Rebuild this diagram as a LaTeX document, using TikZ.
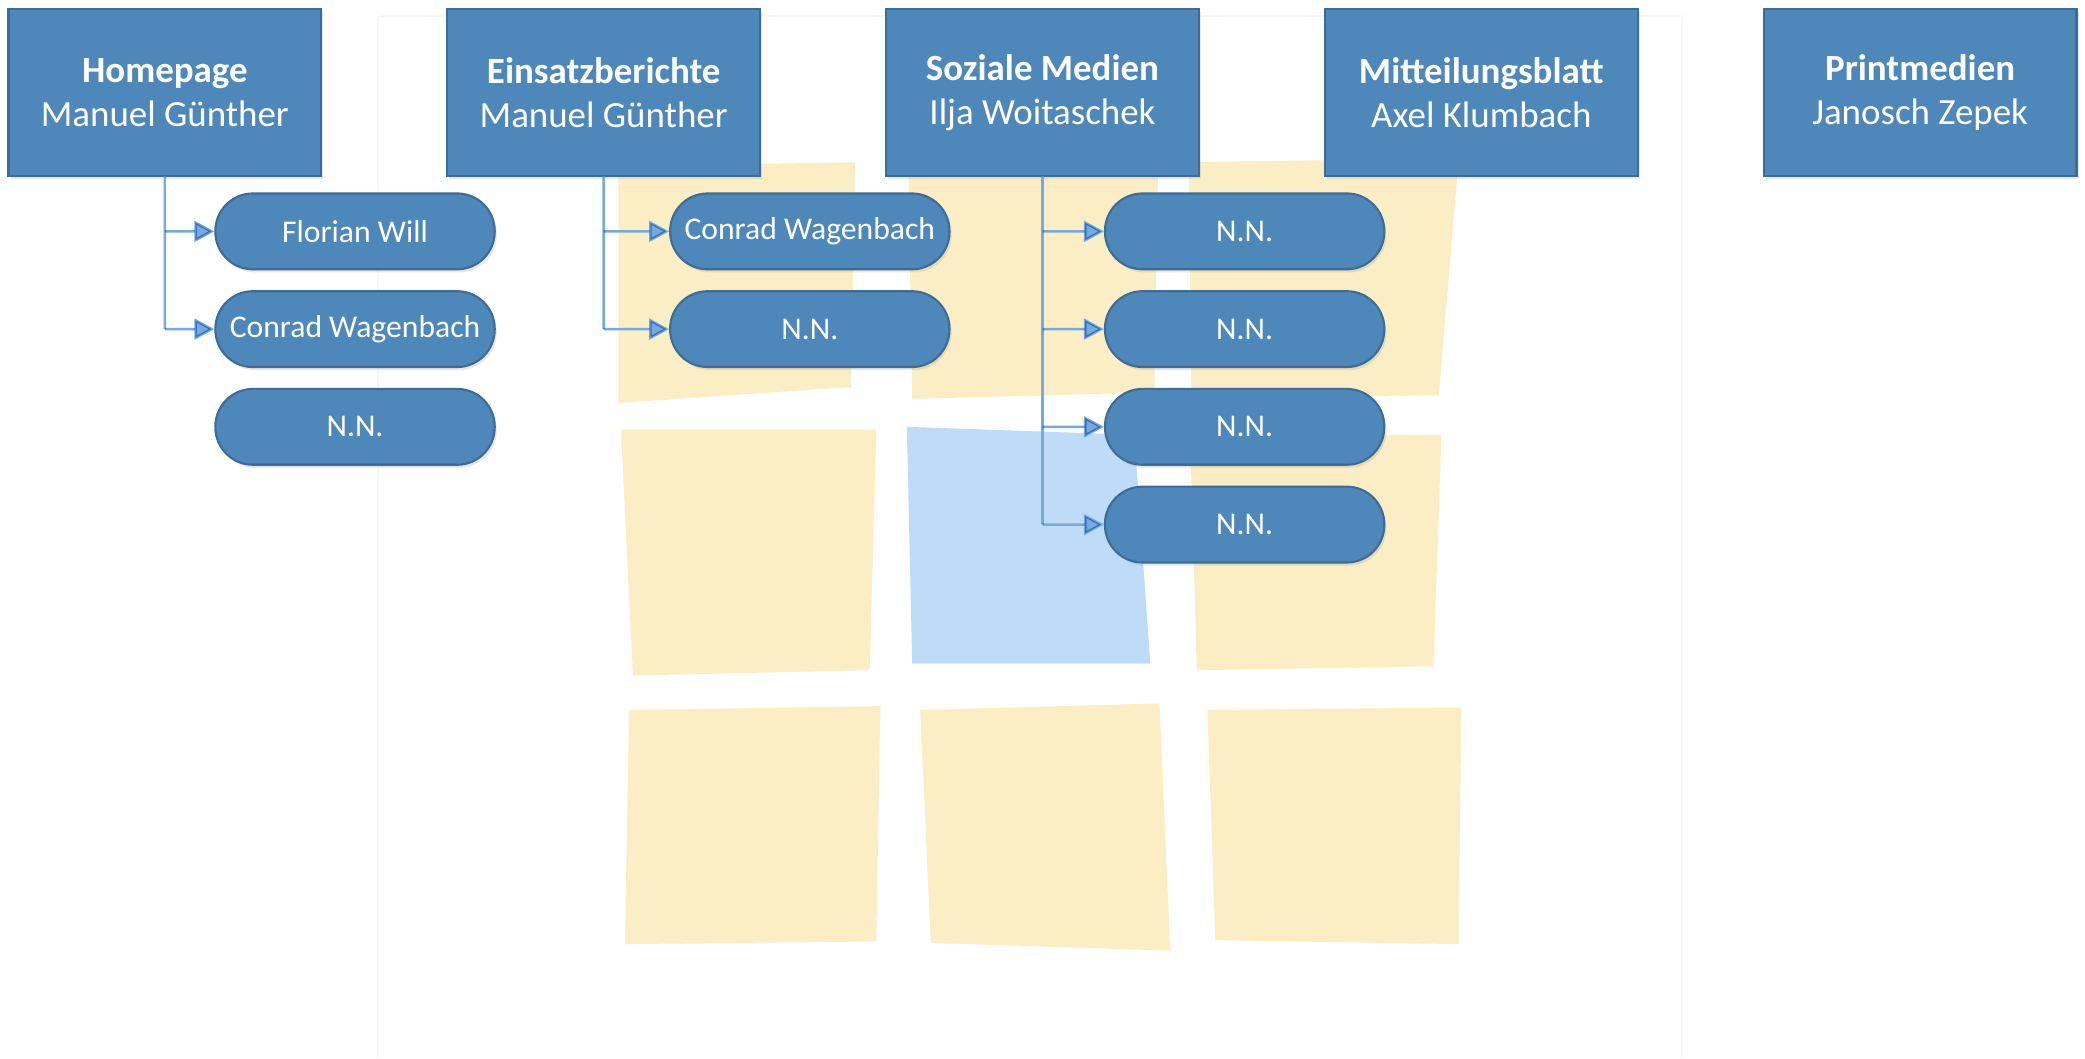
\documentclass[tikz,border=0pt]{standalone}
\usepackage{fontspec}
\setmainfont{Carlito}
\usetikzlibrary{arrows.meta,shadows}
\definecolor{boxblue}{RGB}{78,135,185}
\definecolor{boxedge}{RGB}{62,108,150}
\definecolor{notey}{RGB}{251,238,197}
\definecolor{noteb}{RGB}{190,219,248}
\definecolor{connc}{RGB}{118,170,222}
\tikzset{
  head/.style={rectangle, fill=boxblue, draw=boxedge, line width=0.6pt,
    minimum width=3.125cm, minimum height=1.662cm, align=center, text=white,
    font=\fontsize{10.5}{12.6}\selectfont,
    drop shadow={opacity=0.18, shadow xshift=0.6pt, shadow yshift=-0.9pt}},
  pill/.style={rectangle, rounded corners=0.375cm, fill=boxblue, draw=boxedge, line width=0.6pt,
    minimum width=2.792cm, minimum height=0.758cm, text=white,
    font=\fontsize{9}{11}\selectfont,
    drop shadow={opacity=0.18, shadow xshift=0.6pt, shadow yshift=-0.9pt}},
  note/.style={fill=notey, draw=none},
  noteblue/.style={fill=noteb, draw=none},
  conn/.style={draw=connc, line width=0.75pt},
  connarrow/.style={conn, -{Triangle[length=0.2cm, width=0.21cm]}}
}
\begin{document}
\begin{tikzpicture}[x=0.013297cm, y=-0.013297cm]
\useasboundingbox (0,0) rectangle (1568,796);
\fill[white] (0,0) rectangle (1568,796);
% faint frame of the background photo
\draw[black!3, line width=0.5pt] (284,12) -- (1265,12);
\draw[black!3, line width=0.5pt] (284,12) -- (284,796);
\draw[black!3, line width=0.5pt] (1265,12) -- (1265,796);
% sticky notes
\fill[note] (465,125) -- (643,122) -- (640,291) -- (465,303) -- cycle;
\fill[note] (683,122) -- (871,122) -- (868,295) -- (686,300) -- cycle;
\fill[note] (894,122) -- (1097,119) -- (1082,297) -- (896,300) -- cycle;
\fill[note] (467,323) -- (659,323) -- (654,504) -- (476,508) -- cycle;
\fill[noteblue] (682,321) -- (853,327) -- (865,499) -- (686,499) -- cycle;
\fill[note] (895,327) -- (1084,327) -- (1078,501) -- (900,504) -- cycle;
\fill[note] (473,534) -- (662,531) -- (659,708) -- (470,710) -- cycle;
\fill[note] (692,534) -- (872,529) -- (880,715) -- (700,709) -- cycle;
\fill[note] (908,534) -- (1099,532) -- (1097,710) -- (914,707) -- cycle;
% header boxes
\node[head] (h1) at (124,69.5) {\textbf{Homepage}\\Manuel Günther};
\node[head] (h2) at (454,69.5) {\textbf{Einsatzberichte}\\Manuel Günther};
\node[head] (h3) at (784,69.5) {\textbf{Soziale Medien}\\Ilja Woitaschek};
\node[head] (h4) at (1114,69.5) {\textbf{Mitteilungsblatt}\\Axel Klumbach};
\node[head] (h5) at (1444,69.5) {\textbf{Printmedien}\\Janosch Zepek};
% members
\node[pill] (p11) at (267,174) {Florian Will};
\node[pill] (p12) at (267,247.5) {Conrad Wagenbach};
\node[pill] (p13) at (267,321) {N.N.};
\node[pill] (p21) at (609,174) {Conrad Wagenbach};
\node[pill] (p22) at (609,247.5) {N.N.};
\node[pill] (p31) at (936,174) {N.N.};
\node[pill] (p32) at (936,247.5) {N.N.};
\node[pill] (p33) at (936,321) {N.N.};
\node[pill] (p34) at (936,394.5) {N.N.};
% connectors
\begin{scope}[blend group=multiply]
\draw[conn] (h1.south) -- (h1.south |- p12.west);
\draw[connarrow] (h1.south |- p11.west) -- (p11.west);
\draw[connarrow] (h1.south |- p12.west) -- (p12.west);
\draw[conn] (h2.south) -- (h2.south |- p22.west);
\draw[connarrow] (h2.south |- p21.west) -- (p21.west);
\draw[connarrow] (h2.south |- p22.west) -- (p22.west);
\draw[conn] (h3.south) -- (h3.south |- p34.west);
\draw[connarrow] (h3.south |- p31.west) -- (p31.west);
\draw[connarrow] (h3.south |- p32.west) -- (p32.west);
\draw[connarrow] (h3.south |- p33.west) -- (p33.west);
\draw[connarrow] (h3.south |- p34.west) -- (p34.west);
\end{scope}
\end{tikzpicture}
\end{document}
